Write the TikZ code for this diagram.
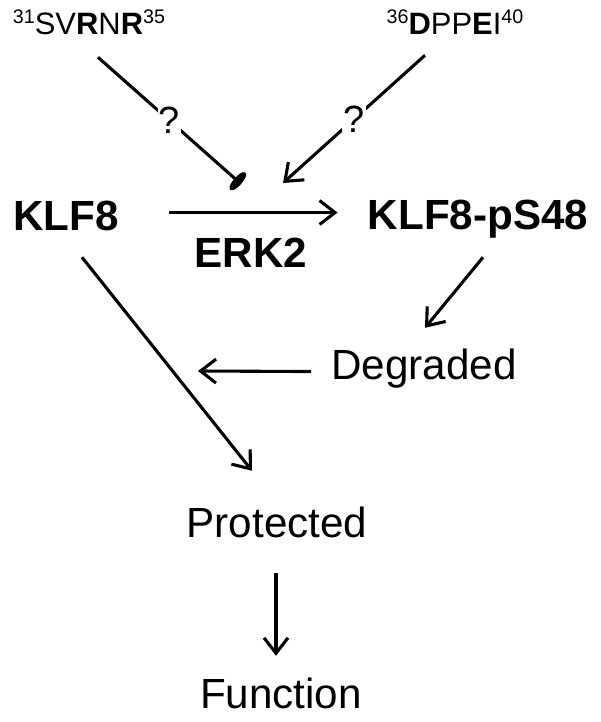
\documentclass[tikz,border=0pt]{standalone}
\usepackage{fontspec}
\setmainfont{Liberation Sans}
\usetikzlibrary{arrows.meta}
\newcommand{\resnum}[1]{\raisebox{8pt}{\fontsize{14}{14}\selectfont #1}}

\begin{document}
\begin{tikzpicture}[x=0.025cm, y=-0.025cm,
    lbl/.style={inner sep=0pt, anchor=base, text height=22pt, text depth=0pt, font=\fontsize{30}{36}\selectfont},
    bold/.style={lbl, font=\fontsize{30}{36}\selectfont\bfseries},
    motif/.style={inner sep=0pt, anchor=base, text depth=0pt, font=\fontsize{22}{26}\selectfont},
    qmark/.style={fill=white, inner sep=1pt, font=\fontsize{27}{30}\selectfont},
    arrow/.style={-{Straight Barb[length=11pt,width=17pt]}, line width=2.2pt},
    inhib/.style={-{Ellipse[length=6pt,width=16pt]}, line width=2.2pt}
  ]
  \useasboundingbox (0,0) rectangle (600,722);
  % Motivos
  \node[motif] (sv) at (89,35) {\resnum{31}SV\textbf{R}N\textbf{R}\resnum{35}};
  \node[motif] (dp) at (455,35) {\resnum{36}\textbf{D}PP\textbf{E}I\resnum{40}};
  % Estados
  \node[bold] (klf) at (66,230) {KLF8};
  \node[bold] (pklf) at (478,229) {KLF8-pS48};
  \node[bold] (erk) at (251,267) {ERK2};
  \node[lbl] (deg) at (424,379) {Degraded};
  \node[lbl] (prot) at (277,537) {Protected};
  \node[lbl] (func) at (281,708) {Function};
  \coordinate (blk) at (241,184);
  \coordinate (act) at (283,183);
  \coordinate (back) at (198,371);
  % Setas
  \draw[inhib] ([shift={(9,22)}]sv.south) -- node[qmark] {?} (blk);
  \draw[arrow] ([shift={(-30,20)}]dp.south) -- node[qmark] {?} (act);
  \draw[arrow] ([shift={(50,-2)}]klf.east) -- ([shift={(-30,-2)}]klf.east -| pklf.west);
  \draw[arrow] ([shift={(5,28)}]pklf.south) -- ([shift={(1,-20)}]deg.north);
  \draw[arrow] ([shift={(-20,8)}]deg.west) -- (back);
  \draw[arrow] ([shift={(16,27)}]klf.south) -- ([shift={(-25,-35)}]prot.north);
  \draw[arrow] ([shift={(-1,36)}]prot.south) -- ([shift={(-5,-21)}]func.north);
\end{tikzpicture}
\end{document}
